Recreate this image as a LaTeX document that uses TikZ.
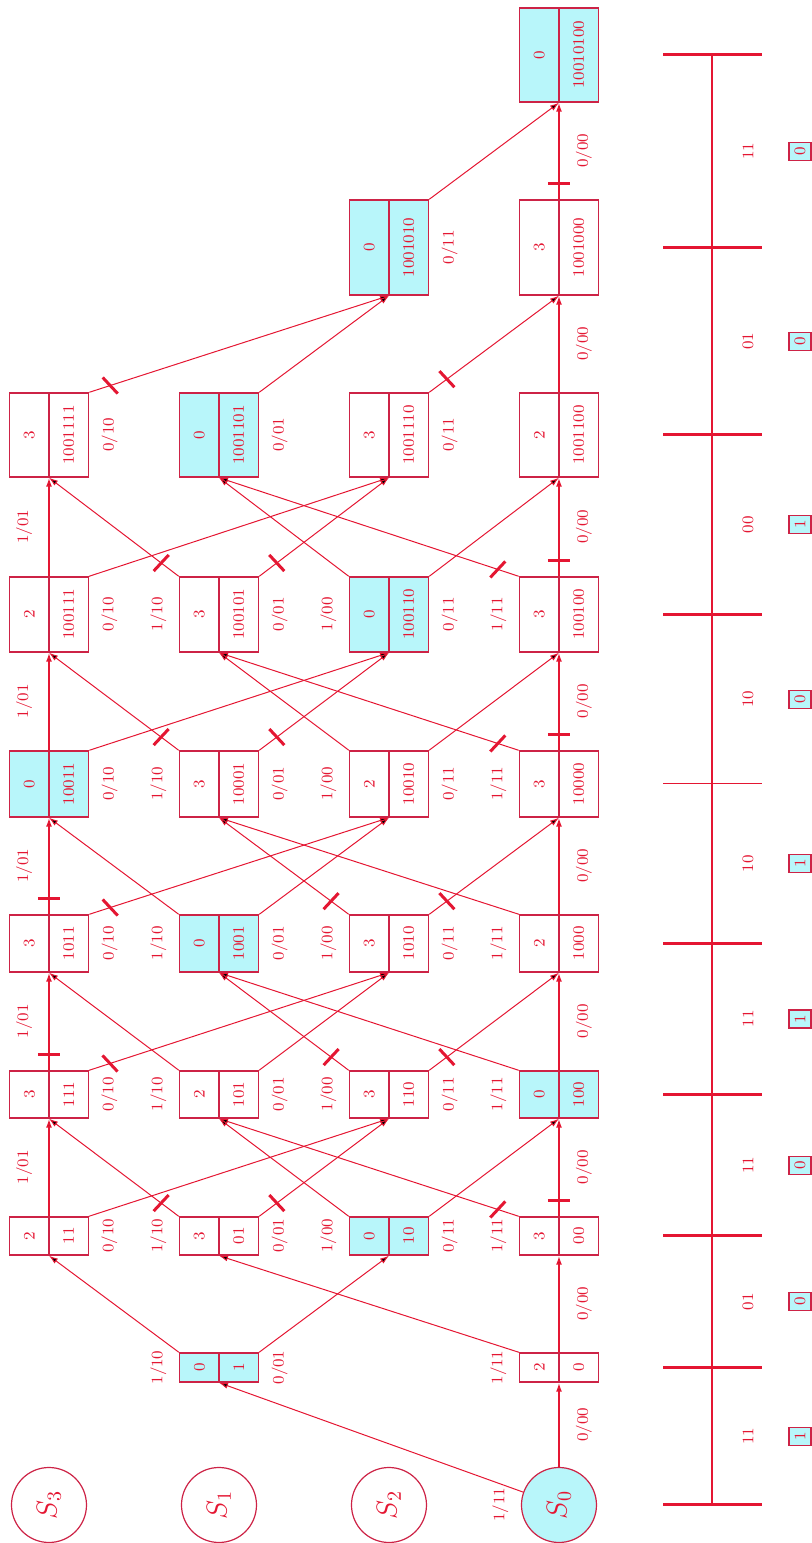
\documentclass[tikz,border=0pt]{standalone}
\usetikzlibrary{arrows.meta,positioning,shapes.multipart,decorations.markings}
\definecolor{trred}{RGB}{228,22,50}
\definecolor{boxred}{RGB}{205,35,70}
\definecolor{best}{RGB}{184,246,250}

\begin{document}
\begin{tikzpicture}[
  x=0.5pt,y=0.5pt,
  font=\footnotesize,
  >={Latex[length=4.5pt,width=3pt]},
  cell/.style={rectangle split,rectangle split parts=2,draw=boxred,line width=0.7pt,inner xsep=0pt,inner ysep=6.8pt,text=trred},
  surv/.style={fill=best},
  st/.style={circle,draw=boxred,line width=0.6pt,minimum size=37.5pt,inner sep=0pt,text=trred,font=\Large},
  branch/.style={->,draw=trred,line width=0.5pt},
  row/.style={line width=0.8pt},
  lab/.style={inner sep=0pt,text=trred},
  cut/.style 2 args={postaction={decorate,decoration={markings,mark=at position #1 with {\pgftransformresetnontranslations\draw[-,trred,line width=1.5pt] (#2:-5.5pt) -- (#2:5.5pt);}}}},
  keep/.style 2 args={},
  bit/.style={draw=boxred,fill=best,line width=0.6pt,minimum width=9pt,minimum height=11pt,inner sep=0pt,text=trred}
]
\begin{scope}[rotate=90,transform shape]
\useasboundingbox (0,0) rectangle (1543,812);

% stage 0: the four states
\node[st] (s3t0) at (38,763) {$S_3$};
\node[st] (s1t0) at (38,593) {$S_1$};
\node[st] (s2t0) at (38,423) {$S_2$};
\node[st,surv] (s0t0) at (38,253) {$S_0$};

% survivor boxes: metric on top, path below
\node[cell,surv,minimum width=14.5pt] (s1t1) at (175.5,593) {0\nodepart{two}1};
\node[cell,minimum width=14.5pt] (s0t1) at (175.5,253) {2\nodepart{two}0};

\node[cell,minimum width=19pt] (s3t2) at (307,763) {2\nodepart{two}11};
\node[cell,minimum width=19pt] (s1t2) at (307,593) {3\nodepart{two}01};
\node[cell,surv,minimum width=19pt] (s2t2) at (307,423) {0\nodepart{two}10};
\node[cell,minimum width=19pt] (s0t2) at (307,253) {3\nodepart{two}00};

\node[cell,minimum width=23.5pt] (s3t3) at (448.5,763) {3\nodepart{two}111};
\node[cell,minimum width=23.5pt] (s1t3) at (448.5,593) {2\nodepart{two}101};
\node[cell,minimum width=23.5pt] (s2t3) at (448.5,423) {3\nodepart{two}110};
\node[cell,surv,minimum width=23.5pt] (s0t3) at (448.5,253) {0\nodepart{two}100};

\node[cell,minimum width=28.5pt] (s3t4) at (599.5,763) {3\nodepart{two}1011};
\node[cell,surv,minimum width=28.5pt] (s1t4) at (599.5,593) {0\nodepart{two}1001};
\node[cell,minimum width=28.5pt] (s2t4) at (599.5,423) {3\nodepart{two}1010};
\node[cell,minimum width=28.5pt] (s0t4) at (599.5,253) {2\nodepart{two}1000};

\node[cell,surv,minimum width=33pt] (s3t5) at (759,763) {0\nodepart{two}10011};
\node[cell,minimum width=33pt] (s1t5) at (759,593) {3\nodepart{two}10001};
\node[cell,minimum width=33pt] (s2t5) at (759,423) {2\nodepart{two}10010};
\node[cell,minimum width=33pt] (s0t5) at (759,253) {3\nodepart{two}10000};

\node[cell,minimum width=37.5pt] (s3t6) at (928.5,763) {2\nodepart{two}100111};
\node[cell,minimum width=37.5pt] (s1t6) at (928.5,593) {3\nodepart{two}100101};
\node[cell,surv,minimum width=37.5pt] (s2t6) at (928.5,423) {0\nodepart{two}100110};
\node[cell,minimum width=37.5pt] (s0t6) at (928.5,253) {3\nodepart{two}100100};

\node[cell,minimum width=42pt] (s3t7) at (1108,763) {3\nodepart{two}1001111};
\node[cell,surv,minimum width=42pt] (s1t7) at (1108,593) {0\nodepart{two}1001101};
\node[cell,minimum width=42pt] (s2t7) at (1108,423) {3\nodepart{two}1001110};
\node[cell,minimum width=42pt] (s0t7) at (1108,253) {2\nodepart{two}1001100};

\node[cell,surv,minimum width=47.5pt] (s2t8) at (1295.5,423) {0\nodepart{two}1001010};
\node[cell,minimum width=47.5pt] (s0t8) at (1295.5,253) {3\nodepart{two}1001000};

\node[cell,surv,minimum width=47pt] (s0t9) at (1488,253) {0\nodepart{two}10010100};

% branches out of stages 0 and 1
\draw[branch] (s0t0) -- (s1t1.west);
\draw[branch,row] (s0t0) -- node[lab,below=8pt] (l0t0) {0/00} (s0t1.west);
\node[lab,above=6pt of s0t0] (u0t0) {1/11};

\draw[branch] (s1t1.north east) -- (s3t2.west);
\draw[branch] (s1t1.south east) -- (s2t2.west);
\draw[branch] (s0t1.north east) -- (s1t2.west);
\draw[branch,row] (s0t1.east) -- node[lab,below=8pt] (l0t1) {0/00} (s0t2.west);
\node[lab,above=6pt of s1t1] (u1t1) {1/10};
\node[lab,below=6pt of s1t1] (d1t1) {0/01};
\node[lab,above=6pt of s0t1] (u0t1) {1/11};

% full trellis sections, cut = discarded branch
\foreach \k/\a/\b in {2/keep/cut,3/cut/keep,4/cut/keep,5/keep/cut,6/keep/cut}{
  \pgfmathtruncatemacro{\n}{\k+1}
  \draw[branch,row,\a={8pt}{0}] (s3t\k.east) -- node[lab,above=8pt] (l3t\k) {1/01} (s3t\n.west);
  \draw[branch,\a={11pt}{-47}] (s3t\k.south east) -- (s2t\n.west);
  \draw[branch,\b={11pt}{47}] (s1t\k.north east) -- (s3t\n.west);
  \draw[branch,\b={11pt}{-47}] (s1t\k.south east) -- (s2t\n.west);
  \draw[branch,\a={11pt}{47}] (s2t\k.north east) -- (s1t\n.west);
  \draw[branch,\a={11pt}{-47}] (s2t\k.south east) -- (s0t\n.west);
  \draw[branch,\b={11pt}{47}] (s0t\k.north east) -- (s1t\n.west);
  \draw[branch,row,\b={8pt}{0}] (s0t\k.east) -- node[lab,below=8pt] (l0t\k) {0/00} (s0t\n.west);
  \node[lab,below=6pt of s3t\k] (d3t\k) {0/10};
  \node[lab,above=6pt of s1t\k] (u1t\k) {1/10};
  \node[lab,below=6pt of s1t\k] (d1t\k) {0/01};
  \node[lab,above=6pt of s2t\k] (u2t\k) {1/00};
  \node[lab,below=6pt of s2t\k] (d2t\k) {0/11};
  \node[lab,above=6pt of s0t\k] (u0t\k) {1/11};
}

% tail: only input 0
\draw[branch,cut={11pt}{-47}] (s3t7.south east) -- (s2t8.west);
\draw[branch] (s1t7.south east) -- (s2t8.west);
\draw[branch,cut={11pt}{-47}] (s2t7.south east) -- (s0t8.west);
\draw[branch,row] (s0t7.east) -- node[lab,below=8pt] (l0t7) {0/00} (s0t8.west);
\node[lab,below=6pt of s3t7] (d3t7) {0/10};
\node[lab,below=6pt of s1t7] (d1t7) {0/01};
\node[lab,below=6pt of s2t7] (d2t7) {0/11};

\draw[branch] (s2t8.south east) -- (s0t9.west);
\draw[branch,row,cut={8pt}{0}] (s0t8.east) -- node[lab,below=8pt] (l0t8) {0/00} (s0t9.west);
\node[lab,below=6pt of s2t8] (d2t8) {0/11};

% time axis, received pairs and decoded bits
\coordinate (a0) at (38,100);
\coordinate (a9) at (1488,100);
\draw[trred,line width=0.75pt] (a0) -- (a9);
\foreach \x/\w in {38/1.5pt,175.5/1.5pt,307/1.5pt,448.5/1.5pt,599.5/1.5pt,759/0.5pt,928.5/1.5pt,1108/1.5pt,1295.5/1.5pt,1488/1.5pt}
  \draw[trred,line width=\w] (\x,50) -- (\x,149);
\foreach \x/\r/\d [count=\i] in {106.75/11/1,241.25/01/0,377.75/11/0,524/11/1,679.25/10/1,843.75/10/0,1018.25/00/1,1201.75/01/0,1391.75/11/0}{
  \node[lab] (r\i) at (\x,64) {\r};
  \node[bit] (b\i) at (\x,12) {\d};
}
\end{scope}
\end{tikzpicture}
\end{document}
